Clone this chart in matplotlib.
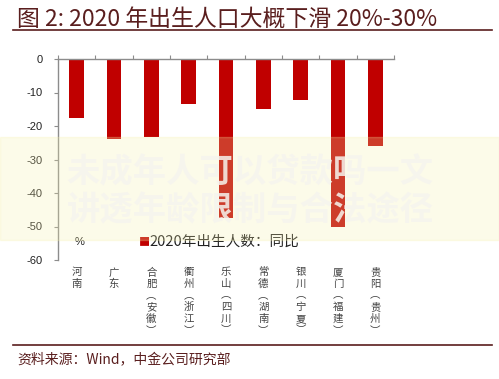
import matplotlib.pyplot as plt
import numpy as np

plt.rcParams['font.family'] = ['Noto Sans CJK SC', 'DejaVu Sans']

cities = ['河\n南', '广\n东', '合\n肥\n︵\n安\n徽\n︶', '衢\n州\n︵\n浙\n江\n︶', '乐\n山\n︵\n四\n川\n︶',
          '常\n德\n︵\n湖\n南\n︶', '银\n川\n︵\n宁\n夏\n︶', '厦\n门\n︵\n福\n建\n︶', '贵\n阳\n︵\n贵\n州\n︶']
yoy = [-17.5, -24.0, -23.4, -13.3, -47.4, -15.0, -12.2, -50.0, -26.0]
yticks = [0, -10, -20, -30, -40, -50, -60]

title_color = '#5a1e1e'
bar_color = '#c00000'
spine_color = '#8c8c8c'

fig = plt.figure(figsize=(4.99, 3.79), dpi=100)
ax = fig.add_axes([58/499, 1-260/379, 336/499, 201/379])

x = np.arange(len(yoy))
ax.bar(x, yoy, width=0.4, color=bar_color, zorder=2)
ax.set_xlim(-0.5, len(yoy)-0.5)
ax.set_ylim(-60, 0)
ax.set_yticks(yticks)
ax.set_yticklabels([str(v) for v in yticks], fontsize=8, color='#222222', family='Liberation Sans')

# x axis on top at 0, ticks at category boundaries
ax.xaxis.tick_top()
ax.set_xticks(np.arange(-0.5, len(yoy), 1))
ax.set_xticklabels([])
ax.tick_params(axis='x', direction='out', length=3, color=spine_color, width=0.8)
ax.tick_params(axis='y', direction='out', length=3, color=spine_color, width=0.8, pad=8)
for s in ['right', 'bottom']:
    ax.spines[s].set_visible(False)
for s in ['left', 'top']:
    ax.spines[s].set_color(spine_color)
    ax.spines[s].set_linewidth(1.0)

# category labels written vertically below the axis
for xi, name in zip(x, cities):
    ax.text(xi, -62.2, name, ha='center', va='top', fontsize=7.5, color='#444444',
            linespacing=1.2, clip_on=False)

ax.text(0.05, 0.09, '%', transform=ax.transAxes, fontsize=8, color='#222222',
        family='Liberation Sans', va='center')
ax.text(0.24, 0.09, '■', transform=ax.transAxes, fontsize=8, color=bar_color, va='center')
ax.text(0.272, 0.09, '2020年出生人数：同比', transform=ax.transAxes, fontsize=10.5,
        color='#222222', va='center')

# title and footer
fig.text(17/499, 1-19/379, '图 2: 2020 年出生人口大概下滑 20%-30%', fontsize=16.5,
         style='italic', color=title_color, va='center', ha='left')
fig.add_artist(plt.Line2D([13/499, 492/499], [1-30/379, 1-30/379], color=title_color, lw=1.2))
fig.add_artist(plt.Line2D([13/499, 492/499], [1-345/379, 1-345/379], color=title_color, lw=1.2))
fig.text(17/499, 1-360/379, '资料来源：Wind，中金公司研究部', fontsize=10,
         style='italic', color=title_color, va='center', ha='left')

# watermark overlay
fig.add_artist(plt.Rectangle((0, 1-240/379), 1, 103/379, transform=fig.transFigure,
                             color='#f7f0a8', alpha=0.25, zorder=5))
fig.text(250/499, 1-192/379, '未成年人可以贷款吗一文\n讲透年龄限制与合法途径', fontsize=24,
         fontweight='bold', color='#f6f4ee', alpha=0.85, ha='center', va='center',
         linespacing=1.2, zorder=6)

fig.savefig('out.png', dpi=100)
